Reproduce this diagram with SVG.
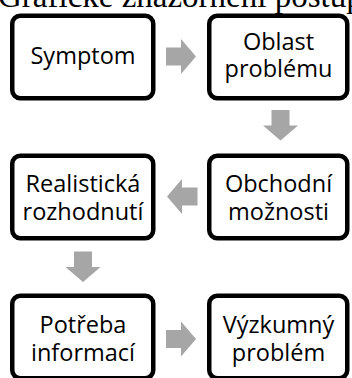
<svg xmlns="http://www.w3.org/2000/svg" width="352" height="378" viewBox="0 0 352 378">
<style>
.box{fill:#fff;stroke:#000;stroke-width:4.5}
.lbl{font-family:"Open Sans","Liberation Sans",sans-serif;font-size:23.5px;fill:#000;text-anchor:middle}
.arr{fill:#A6A6A6}
.title{font-family:"Liberation Serif","Times New Roman",serif;font-size:33px;fill:#000}
</style>
<rect width="352" height="378" fill="#fff"/>
<text class="title" x="-2" y="7">Grafické znázornění postupu</text>
<g id="connectors">
<polygon class="arr" points="166,47.5 181,47.5 181,39 196,56.5 181,74 181,65.5 166,65.5"/>
<polygon class="arr" points="271.5,110 289.5,110 289.5,125.5 298,125.5 280.5,140.5 263,125.5 271.5,125.5"/>
<polygon class="arr" points="197.5,187.5 182,187.5 182,179 167,196.5 182,214 182,205.5 197.5,205.5"/>
<polygon class="arr" points="74,251.5 92,251.5 92,267 100.5,267 83,282 65.5,267 74,267"/>
<polygon class="arr" points="166,330 181,330 181,321.5 196,339 181,356.5 181,348 166,348"/>
</g>
<g id="symptom">
<rect class="box" x="12.25" y="15.75" width="141" height="82.5" rx="8"/>
<text class="lbl" x="83" y="64">Symptom</text>
</g>
<g id="oblast">
<rect class="box" x="209.25" y="15.75" width="138" height="82.5" rx="8"/>
<text class="lbl" x="278.5" y="50">Oblast</text>
<text class="lbl" x="278.5" y="77">problému</text>
</g>
<g id="obchodni">
<rect class="box" x="209.25" y="155.75" width="138" height="82.5" rx="8"/>
<text class="lbl" x="278.5" y="191.5">Obchodní</text>
<text class="lbl" x="278.5" y="219.5">možnosti</text>
</g>
<g id="realisticka">
<rect class="box" x="12.25" y="155.75" width="141" height="82.5" rx="8"/>
<text class="lbl" x="83" y="191.5">Realistická</text>
<text class="lbl" x="83" y="219.5">rozhodnutí</text>
</g>
<g id="potreba">
<rect class="box" x="12.25" y="295.75" width="141" height="82.5" rx="8"/>
<text class="lbl" x="83" y="333">Potřeba</text>
<text class="lbl" x="83" y="361">informací</text>
</g>
<g id="vyzkumny">
<rect class="box" x="209.25" y="295.75" width="138" height="82.5" rx="8"/>
<text class="lbl" x="278.5" y="333">Výzkumný</text>
<text class="lbl" x="278.5" y="361">problém</text>
</g>
</svg>
